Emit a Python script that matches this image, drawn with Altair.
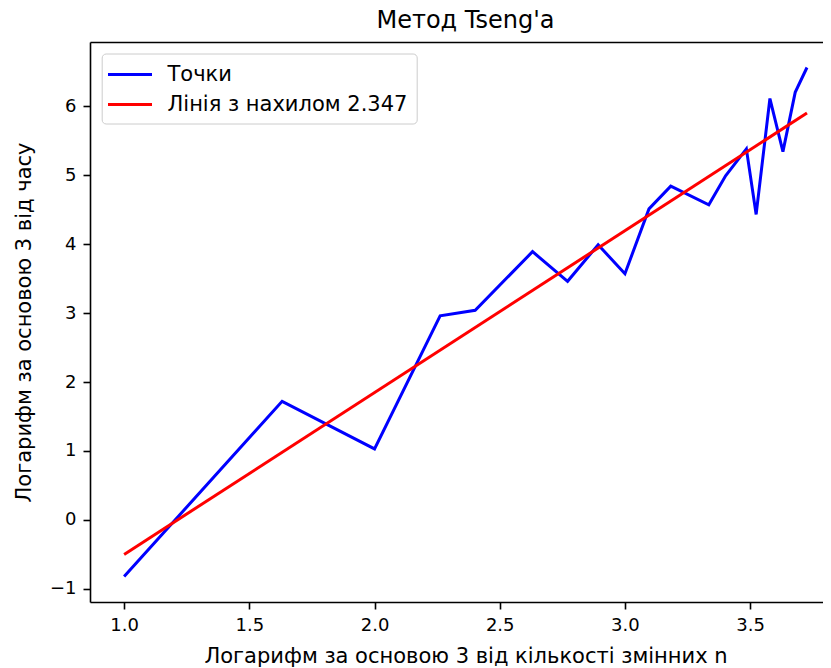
import altair as alt
import pandas as pd

# Data
xs_points = [1.0, 1.631, 2.0, 2.262, 2.402, 2.631, 2.771, 2.893, 3.0, 3.096,
             3.183, 3.335, 3.402, 3.485, 3.524, 3.579, 3.631, 3.680, 3.727]
ys_points = [-0.82, 1.72, 1.03, 2.96, 3.04, 3.89, 3.46, 3.99, 3.57, 4.51,
             4.84, 4.57, 4.99, 5.38, 4.43, 6.11, 5.34, 6.20, 6.56]
fit_x = [1.0, 3.727]
fit_y = [-0.50, 5.90]

series_names = ["Точки", "Лінія з нахилом 2.347"]
series_colors = ["#0000ff", "#ff0000"]
x_ticks = [1.0, 1.5, 2.0, 2.5, 3.0, 3.5]
y_ticks = [-1, 0, 1, 2, 3, 4, 5, 6]

title_text = "Метод Tseng'a"
x_title = "Логарифм за основою 3 від кількості змінних n"
y_title = "Логарифм за основою 3 від часу"

rows = []
for i, (x, y) in enumerate(zip(xs_points, ys_points)):
    rows.append({"x": x, "y": y, "series": series_names[0], "idx": i})
for i, (x, y) in enumerate(zip(fit_x, fit_y)):
    rows.append({"x": x, "y": y, "series": series_names[1], "idx": i})
df = pd.DataFrame(rows)

FONT = "DejaVu Sans"
W, H = 733, 560
x_scale = alt.Scale(domain=[0.8637, 3.7910], nice=False, zero=False)
y_scale = alt.Scale(domain=[-1.19, 6.93], nice=False, zero=False)

y_enc = alt.Y(
    "y:Q", scale=y_scale,
    axis=alt.Axis(values=y_ticks, format="d", title=y_title,
                  titleX=-60, titleY=H / 2, titleBaseline="alphabetic",
                  titleAngle=-90, titleAlign="center"),
)

lines = alt.Chart(df).mark_line(strokeWidth=3).encode(
    x=alt.X("x:Q", scale=x_scale,
            axis=alt.Axis(values=x_ticks, format=".1f", title=x_title,
                          titleX=375.5, titleY=60, titleBaseline="alphabetic",
                          titleAlign="center", labelFlush=False, orient="bottom")),
    y=y_enc,
    color=alt.Color(
        "series:N",
        scale=alt.Scale(domain=series_names, range=series_colors),
        legend=alt.Legend(
            title=None, orient="none", legendX=11.7, legendY=11.5,
            symbolType="M-2,0L2,0", symbolSize=484, symbolStrokeWidth=3,
            symbolOffset=7.3, labelOffset=25, labelFontSize=21, labelFont=FONT,
            labelColor="black", padding=8.5, rowPadding=7,
            strokeColor="#cccccc", fillColor="rgba(255,255,255,0.8)",
            cornerRadius=4, labelLimit=0,
        ),
    ),
    detail="series:N",
    order="idx:Q",
)

frame_top = alt.Chart(df).mark_line(opacity=0).encode(
    x=alt.X("x:Q", scale=x_scale,
            axis=alt.Axis(orient="top", labels=False, ticks=False, title=None,
                          domain=True, grid=False)),
    y=y_enc,
)

chart = (
    alt.layer(lines, frame_top)
    .resolve_axis(x="independent")
    .properties(
        width=W, height=H,
        background="white",
        autosize=alt.AutoSizeParams(type="none"),
        padding={"left": 82, "top": 34, "right": 0, "bottom": 66},
        title=alt.TitleParams(title_text, font=FONT, fontSize=24, fontWeight="normal",
                              color="black", anchor="middle", offset=9, dx=9),
    )
    .configure_view(stroke=None)
    .configure_axis(
        labelFont=FONT, labelFontSize=18, labelColor="black",
        titleFont=FONT, titleFontSize=21, titleFontWeight="normal", titleColor="black",
        tickColor="black", domainColor="black", tickSize=7, tickWidth=1.6,
        domainWidth=1.6, grid=False, labelPadding=7,
    )
)

chart.save("out.html", embed_options={"renderer": "svg", "actions": False})
